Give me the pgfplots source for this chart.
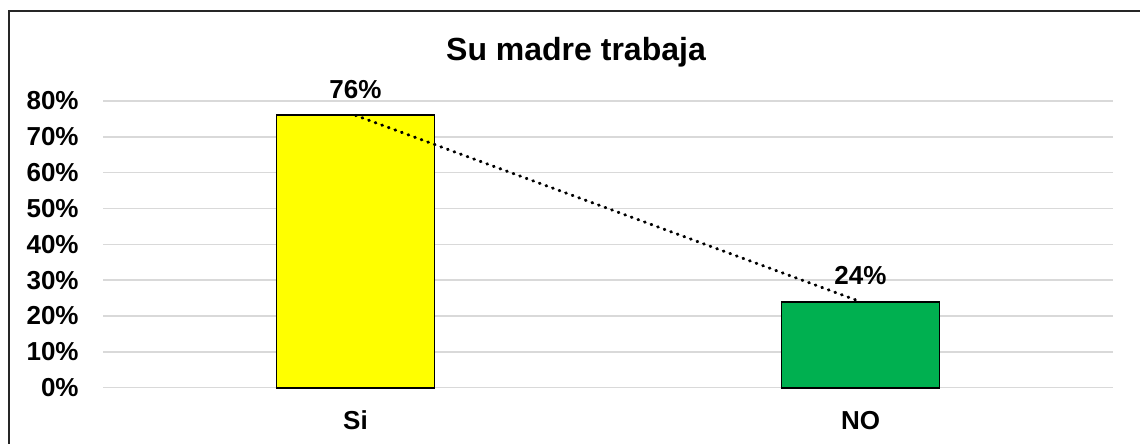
\documentclass[border=0pt]{standalone}
\usepackage{pgfplots}
\pgfplotsset{compat=1.18}
\usepackage{fontspec}
\setmainfont{Liberation Sans}
\definecolor{gridc}{HTML}{D9D9D9}
\definecolor{baryellow}{HTML}{FFFF00}
\definecolor{bargreen}{HTML}{00B050}
\begin{document}
\begin{tikzpicture}
\path[use as bounding box] (0,0) rectangle (570pt,222pt);
\begin{scope}
\clip (0,0) rectangle (570pt,222pt);
\draw[black!85, line width=0.9pt] (4.5pt,-10pt) rectangle (590pt,216.5pt);
\end{scope}
\node[font=\fontsize{16}{18}\selectfont\bfseries, inner sep=0pt] at (288pt,196pt) {Su madre trabaja};
\begin{axis}[
  at={(51.5pt,28.15pt)}, anchor=south west,
  scale only axis, width=505pt, height=143.35pt,
  xmin=-0.5, xmax=1.5, ymin=0, ymax=80,
  xtick={0,1}, xticklabels={Si,NO},
  ytick={0,10,...,80},
  yticklabel={\pgfmathprintnumber[assume math mode=true]{\tick}\%},
  axis line style={draw=none},
  major tick length=0pt,
  ymajorgrids, grid style={gridc, line width=0.8pt},
  tick label style={font=\fontsize{13}{15}\selectfont\bfseries, inner sep=0pt},
  xticklabel style={anchor=north, yshift=-11.5pt},
  yticklabel style={anchor=east, xshift=-12pt},
  clip=false,
]
\addplot[ybar, bar width=79pt, fill=baryellow, draw=black, line width=0.9pt,
  nodes near coords={\pgfmathprintnumber[assume math mode=true]{\pgfplotspointmeta}\%},
  every node near coord/.append style={font=\fontsize{13}{15}\selectfont\bfseries, inner sep=0pt, yshift=8pt, black}]
  coordinates {(0,76)};
\addplot[ybar, bar width=79pt, fill=bargreen, draw=black, line width=0.9pt,
  nodes near coords={\pgfmathprintnumber[assume math mode=true]{\pgfplotspointmeta}\%},
  every node near coord/.append style={font=\fontsize{13}{15}\selectfont\bfseries, inner sep=0pt, yshift=8pt, black}]
  coordinates {(1,24)};
\addplot[black, line width=1.5pt, dash pattern=on 0.4pt off 3.1pt, line cap=round, mark=none]
  coordinates {(0,76) (1,24)};
\end{axis}
\end{tikzpicture}
\end{document}
